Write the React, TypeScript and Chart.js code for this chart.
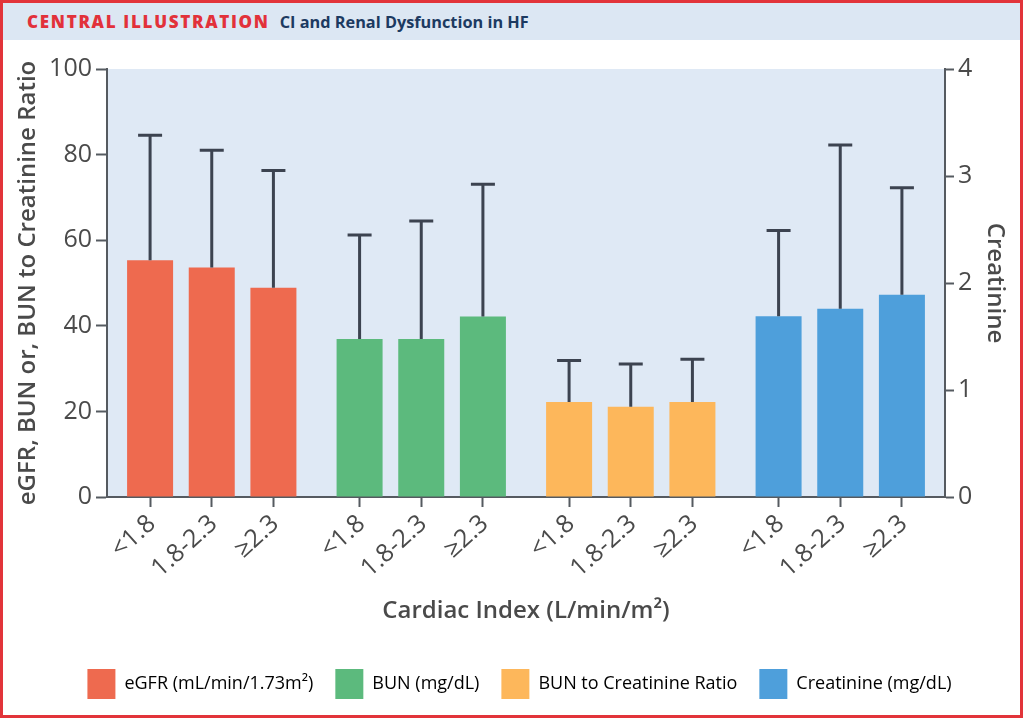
import React, { useEffect, useRef } from 'react';
import { Chart, registerables } from 'chart.js';

Chart.register(...registerables);

// ---------- data ----------
const ciLevels = ['<1.8', '1.8-2.3', '≥2.3'];
const measureKeys = ['eGFR', 'BUN', 'BUN/Cr', 'Creatinine'];
const measureLabels = ['eGFR (mL/min/1.73m²)', 'BUN (mg/dL)', 'BUN to Creatinine Ratio', 'Creatinine (mg/dL)'];

const egfrMean = [55.3, 53.6, 48.9];
const egfrUpper = [84.5, 81.0, 76.3];
const bunMean = [36.9, 36.9, 42.2];
const bunUpper = [61.2, 64.5, 73.1];
const ratioMean = [22.2, 21.1, 22.2];
const ratioUpper = [31.9, 31.1, 32.2];
const creatMean = [1.69, 1.76, 1.89];
const creatUpper = [2.49, 3.29, 2.89];

const leftTicks = [0, 20, 40, 60, 80, 100];
const rightTicks = [0, 1, 2, 3, 4];

// ---------- style ----------
const measureColors = ['#EE6A4F', '#5CBA7D', '#FDB75B', '#4E9FDB'];
const FONT = "'Open Sans', 'Noto Sans', sans-serif";
const TEXT = '#4a4a4a';
const AXIS = '#555a60';
const PLOT_BG = '#dfe9f5';
const ERR = '#3c4350';
const CAT_PCT = 0.883;
const BAR_PCT = 0.746;

const plotBgPlugin = {
  id: 'plotBg',
  beforeDraw(chart: any) {
    const { ctx, chartArea } = chart;
    ctx.save();
    ctx.fillStyle = PLOT_BG;
    ctx.fillRect(chartArea.left, chartArea.top, chartArea.right - chartArea.left, chartArea.bottom - chartArea.top);
    ctx.restore();
  },
};

const errorBarPlugin = {
  id: 'errorBars',
  afterDatasetsDraw(chart: any) {
    const ctx = chart.ctx;
    ctx.save();
    ctx.strokeStyle = ERR;
    ctx.lineWidth = 3;
    chart.data.datasets.forEach((ds: any, di: number) => {
      const meta = chart.getDatasetMeta(di);
      const scale = chart.scales[ds.yAxisID];
      meta.data.forEach((bar: any, i: number) => {
        const v = ds.data[i];
        const up = ds.errorUpper[i];
        if (v == null || up == null) return;
        const yTop = scale.getPixelForValue(up);
        ctx.beginPath();
        ctx.moveTo(bar.x, bar.y);
        ctx.lineTo(bar.x, yTop);
        ctx.moveTo(bar.x - 12, yTop);
        ctx.lineTo(bar.x + 12, yTop);
        ctx.stroke();
      });
    });
    ctx.restore();
  },
};

export default function App() {
  const canvasRef = useRef<HTMLCanvasElement | null>(null);

  useEffect(() => {
    document.body.style.margin = '0';
    const canvas = canvasRef.current;
    if (!canvas) return;

    const leftDatasets = ciLevels.map((lvl, k) => ({
      label: lvl,
      data: [egfrMean[k], bunMean[k], ratioMean[k], null],
      errorUpper: [egfrUpper[k], bunUpper[k], ratioUpper[k], null],
      backgroundColor: measureColors,
      xAxisID: 'x',
      yAxisID: 'y',
    }));
    const rightDatasets = ciLevels.map((lvl, k) => ({
      label: lvl + ' Cr',
      data: [null, null, null, creatMean[k]],
      errorUpper: [null, null, null, creatUpper[k]],
      backgroundColor: measureColors,
      xAxisID: 'x',
      yAxisID: 'y2',
    }));

    // tick positions of each bar on the helper linear axis
    const tickPositions: number[] = [];
    measureKeys.forEach((_, g) => {
      ciLevels.forEach((__, k) => tickPositions.push(g + ((k - 1) * CAT_PCT) / 3));
    });

    const chart = new Chart(canvas, {
      type: 'bar',
      data: {
        labels: measureKeys,
        datasets: [...leftDatasets, ...rightDatasets] as any,
      },
      plugins: [plotBgPlugin, errorBarPlugin],
      options: {
        animation: false,
        responsive: false,
        devicePixelRatio: 1,
        skipNull: true,
        categoryPercentage: CAT_PCT,
        barPercentage: BAR_PCT,
        layout: { padding: { left: 16, right: 0, top: 69, bottom: 9 } },
        font: { family: FONT },
        plugins: {
          legend: {
            position: 'bottom',
            onClick: () => {},
            labels: {
              boxWidth: 28,
              boxHeight: 30,
              padding: 22,
              color: TEXT,
              font: { family: FONT, size: 18 },
              generateLabels: () =>
                measureLabels.map((t, i) => ({
                  text: t,
                  fillStyle: measureColors[i],
                  strokeStyle: measureColors[i],
                  lineWidth: 0,
                  hidden: false,
                  datasetIndex: i,
                })),
            },
          },
          tooltip: { enabled: false },
        },
        scales: {
          x: { type: 'category', display: false, offset: true },
          x2: {
            type: 'linear',
            position: 'bottom',
            offset: false,
            bounds: 'data',
            min: -0.5,
            max: 3.5,
            afterBuildTicks: (s: any) => {
              s.ticks = tickPositions.map((v) => ({ value: v }));
            },
            afterFit: (s: any) => {
              s.height = 150;
            },
            ticks: {
              autoSkip: false,
              minRotation: 42,
              maxRotation: 42,
              padding: 2,
              labelOffset: 2,
              color: TEXT,
              font: { family: FONT, size: 25 },
              callback: (_v: any, i: number) => ciLevels[i % ciLevels.length],
            },
            grid: { offset: false, drawOnChartArea: false, drawTicks: true, tickLength: 10, tickWidth: 2, tickColor: AXIS },
            border: { display: true, color: AXIS, width: 2 },
            title: {
              display: true,
              text: 'Cardiac Index (L/min/m²)',
              color: TEXT,
              font: { family: FONT, size: 24, weight: '600', lineHeight: 1.2 },
              padding: { top: 0, bottom: 21 },
            },
          },
          y: {
            position: 'left',
            min: 0,
            max: 100,
            afterBuildTicks: (s: any) => {
              s.ticks = leftTicks.map((v) => ({ value: v }));
            },
            afterFit: (s: any) => {
              s.width = 91;
            },
            ticks: { color: TEXT, padding: 4, font: { family: FONT, size: 25 } },
            grid: { drawOnChartArea: false, drawTicks: true, tickLength: 11, tickWidth: 2, tickColor: AXIS },
            border: { display: true, color: AXIS, width: 2 },
            title: {
              display: true,
              text: 'eGFR, BUN or, BUN to Creatinine Ratio',
              color: TEXT,
              font: { family: FONT, size: 24, weight: '600', lineHeight: 1 },
              padding: { top: 0, bottom: 0 },
            },
          },
          y2: {
            position: 'right',
            min: 0,
            max: 4,
            afterBuildTicks: (s: any) => {
              s.ticks = rightTicks.map((v) => ({ value: v }));
            },
            afterFit: (s: any) => {
              s.width = 78;
            },
            ticks: { color: TEXT, padding: 4, font: { family: FONT, size: 25 } },
            grid: { drawOnChartArea: false, drawTicks: true, tickLength: 9, tickWidth: 2, tickColor: AXIS },
            border: { display: true, color: AXIS, width: 2 },
            title: {
              display: true,
              text: 'Creatinine',
              color: TEXT,
              font: { family: FONT, size: 24, weight: '600', lineHeight: 1 },
              padding: { top: 16, bottom: 0 },
            },
          },
        },
      } as any,
    });

    return () => chart.destroy();
  }, []);

  return (
    <div style={{ position: 'relative', width: 1023, height: 718, background: '#ffffff', overflow: 'hidden' }}>
      <canvas
        ref={canvasRef}
        width={1023}
        height={718}
        style={{ position: 'absolute', left: 0, top: 0, width: 1023, height: 718 }}
      />
      <div
        style={{
          position: 'absolute',
          left: 3,
          top: 3,
          width: 1017,
          height: 37,
          background: '#dce7f3',
          display: 'flex',
          alignItems: 'center',
          fontFamily: FONT,
          whiteSpace: 'nowrap',
        }}
      >
        <span style={{ marginLeft: 24, color: '#e2313a', fontWeight: 800, fontSize: 17, letterSpacing: 1.7 }}>
          CENTRAL ILLUSTRATION
        </span>
        <span style={{ marginLeft: 10, color: '#1c3a61', fontWeight: 700, fontSize: 16.3 }}>
          CI and Renal Dysfunction in HF
        </span>
      </div>
      <div
        style={{
          position: 'absolute',
          left: 0,
          top: 0,
          width: 1023,
          height: 718,
          boxSizing: 'border-box',
          border: '3px solid #e2343a',
          pointerEvents: 'none',
        }}
      />
    </div>
  );
}
